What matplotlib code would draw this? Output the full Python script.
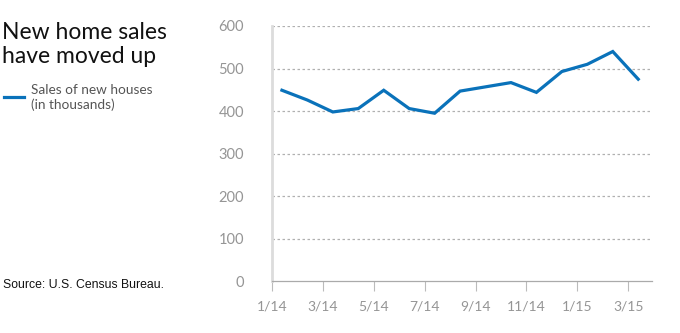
"""Line chart of monthly new home sales, Jan 2014 - Mar 2015."""

import matplotlib

matplotlib.use("Agg")
import matplotlib.pyplot as plt

# sales of new houses, thousands, one value per month starting 1/14
MONTHS = ["1/14", "2/14", "3/14", "4/14", "5/14", "6/14", "7/14", "8/14",
          "9/14", "10/14", "11/14", "12/14", "1/15", "2/15", "3/15"]
SALES = [449, 426, 398, 406, 449, 406, 395, 447,
         457, 467, 444, 493, 510, 540, 475]
TICK_LABELS = ["1/14", "3/14", "5/14", "7/14", "9/14", "11/14", "1/15", "3/15"]
Y_TICKS = [0, 100, 200, 300, 400, 500, 600]

BLUE = "#0a72ba"
GREY_TEXT = "#959595"

plt.rcParams["font.family"] = ["Lato", "DejaVu Sans"]

fig = plt.figure(figsize=(6.8, 3.33), dpi=100)
ax = fig.add_axes([0.40, 0.155, 0.5584, 0.767])

x = list(range(len(SALES)))
ax.plot(x, SALES, color=BLUE, linewidth=2.3, solid_joinstyle="miter")

# month ticks sit a little ahead of the data points
tick_pos = [MONTHS.index(lbl) - 0.39 for lbl in TICK_LABELS]
ax.set_xticks(tick_pos)
ax.set_xticklabels(TICK_LABELS)
ax.set_xlim(-0.39, 14.53)

ax.set_ylim(0, 600)
ax.set_yticks(Y_TICKS)
for y in Y_TICKS[1:]:
    ax.axhline(y, color="#b0b0b0", linewidth=0.9, linestyle=(0, (2, 2)),
               zorder=0)

for side in ("top", "right"):
    ax.spines[side].set_visible(False)
ax.spines["left"].set_color("#dcdcdc")
ax.spines["left"].set_linewidth(2)
ax.spines["bottom"].set_color("#aaaaaa")
ax.spines["bottom"].set_linewidth(0.9)

ax.tick_params(axis="x", length=7, width=0.8, color="#bbbbbb",
               labelcolor=GREY_TEXT, labelsize=10, pad=7)
ax.tick_params(axis="y", length=0, labelcolor=GREY_TEXT, labelsize=10.5,
               pad=20)

fig.text(0.003, 0.935, "New home sales\nhave moved up", fontsize=16.5,
         color="#111111", va="top", ha="left", linespacing=1.22)

fig.add_artist(plt.Line2D([0.006, 0.035], [0.709, 0.709], color=BLUE,
                          linewidth=2.3))
fig.text(0.045, 0.748, "Sales of new houses\n(in thousands)", fontsize=9.8,
         color="#555555", va="top", ha="left", linespacing=1.2)

fig.text(0.005, 0.145, "Source: U.S. Census Bureau.", fontsize=8.8,
         family=["Liberation Sans", "DejaVu Sans"], color="#111111",
         va="center", ha="left")

fig.savefig("out.png", dpi=100)
